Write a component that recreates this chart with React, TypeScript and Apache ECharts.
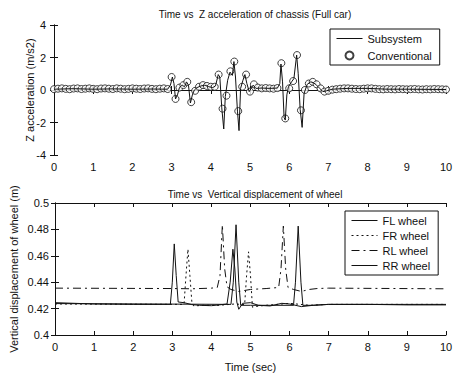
import React, { useEffect, useRef } from "react";
import * as echarts from "echarts";

// Top panel: subsystem line (t, m/s2)
const subsystemLine: [number, number][] = [
  [0, 0.05], [0.5, 0.08], [1, 0.05], [1.5, 0.07], [2, 0.05], [2.5, 0.06], [2.9, 0.05],
  [2.97, 0.3], [3.02, 0.8], [3.06, 0.4], [3.1, -0.55], [3.15, -0.3], [3.2, 0.15], [3.27, 0.3],
  [3.33, 0.2], [3.38, 0.5], [3.43, 0.3], [3.48, -0.8], [3.53, -0.3], [3.58, 0.0], [3.65, 0.15],
  [3.75, 0.25], [3.85, 0.3], [3.95, 0.2], [4.05, 0.15], [4.12, 0.25], [4.19, 0.95], [4.23, 0.8],
  [4.28, -1.1], [4.33, -2.4], [4.37, -0.4], [4.43, 0.6], [4.49, 1.1], [4.55, 0.9], [4.59, 1.75],
  [4.63, 0.8], [4.68, -1.3], [4.72, -2.5], [4.76, 0.1], [4.82, 0.6], [4.87, 0.95], [4.92, 0.4],
  [4.98, -0.1], [5.03, 0.1], [5.08, 0.3], [5.15, 0.1], [5.3, 0.12], [5.5, 0.1], [5.7, 0.12],
  [5.76, 0.4], [5.79, 1.6], [5.83, 0.5], [5.87, -1.7], [5.9, -1.85], [5.94, -0.3], [5.98, 0.2],
  [6.06, 0.5], [6.12, 0.7], [6.19, 2.15], [6.23, 1.0], [6.28, -1.2], [6.33, -2.3], [6.38, -0.2],
  [6.46, 0.35], [6.55, 0.5], [6.62, 0.45], [6.7, 0.3], [6.78, 0.1], [6.86, -0.1], [6.95, -0.05],
  [7.1, 0.05], [7.5, 0.1], [8, 0.1], [8.5, 0.05], [9, 0.05], [9.5, 0.04], [10, 0.03],
];

// Top panel: conventional samples, one every 0.1 s from 0 to 10 s
const conventionalStep = 0.1;
const conventionalValues: number[] = [
  0.05, 0.08, 0.1, 0.07, 0.05, 0.09, 0.1, 0.06, 0.08, 0.1,
  0.07, 0.05, 0.09, 0.1, 0.08, 0.06, 0.1, 0.08, 0.05, 0.07,
  0.1, 0.08, 0.06, 0.09, 0.1, 0.07, 0.05, 0.08, 0.1, 0.06,
  0.8, -0.55, 0.15, 0.3, 0.5, -0.75, -0.05, 0.2, 0.3, 0.25,
  0.2, 0.2, 0.95, -1.15, -0.35, 1.15, 1.75, -1.3, 0.2, 0.95,
  -0.1, 0.35, 0.15, 0.1, 0.12, 0.1, 0.08, 0.12, 1.65, -1.75,
  0.1, 0.55, 2.15, -1.25, 0.0, 0.4, 0.5, 0.35, 0.1, -0.1,
  -0.05, 0.02, 0.05, 0.08, 0.1, 0.1, 0.08, 0.06, 0.05, 0.08,
  0.1, 0.1, 0.07, 0.05, 0.04, 0.06, 0.05, 0.04, 0.06, 0.05,
  0.04, 0.05, 0.06, 0.04, 0.03, 0.05, 0.04, 0.06, 0.05, 0.04, 0.03,
];

// Bottom panel: wheel vertical displacement (t, m)
const flWheel: [number, number][] = [
  [0, 0.4245], [1, 0.4235], [2, 0.4232], [2.95, 0.4232], [3.0, 0.44], [3.05, 0.469], [3.1, 0.445],
  [3.15, 0.425], [3.3, 0.4245], [3.5, 0.423], [3.7, 0.4225], [4.0, 0.4222], [4.2, 0.4228],
  [4.4, 0.4235], [4.48, 0.44], [4.55, 0.465], [4.6, 0.45], [4.65, 0.425], [4.7, 0.4195],
  [4.8, 0.424], [5.0, 0.4245], [5.2, 0.4225], [5.5, 0.422], [5.8, 0.424], [6.0, 0.4235],
  [6.3, 0.4215], [6.6, 0.4225], [7, 0.4232], [8, 0.4232], [9, 0.4228], [10, 0.4228],
];
const frWheel: [number, number][] = [
  [0, 0.4235], [3.3, 0.4232], [3.35, 0.445], [3.4, 0.465], [3.45, 0.445], [3.5, 0.425],
  [3.55, 0.422], [3.8, 0.4225], [4.2, 0.4225], [4.6, 0.4235], [4.85, 0.423], [4.9, 0.445],
  [4.95, 0.463], [5.0, 0.445], [5.05, 0.421], [5.1, 0.4215], [5.4, 0.4225], [6, 0.424],
  [6.5, 0.4225], [7, 0.4232], [10, 0.4232],
];
const rlWheel: [number, number][] = [
  [0, 0.4355], [3.0, 0.4352], [3.5, 0.435], [4.0, 0.4355], [4.15, 0.436], [4.22, 0.445],
  [4.28, 0.4835], [4.34, 0.45], [4.4, 0.4365], [4.5, 0.4345], [4.7, 0.433], [5.0, 0.4345],
  [5.4, 0.4352], [5.72, 0.436], [5.78, 0.45], [5.84, 0.4825], [5.9, 0.45], [5.96, 0.436],
  [6.1, 0.4345], [6.3, 0.433], [6.5, 0.4345], [6.7, 0.4352], [7, 0.4355], [10, 0.435],
];
const rrWheel: [number, number][] = [
  [0, 0.4238], [4.5, 0.4232], [4.56, 0.44], [4.63, 0.4835], [4.7, 0.44], [4.75, 0.4225],
  [5.0, 0.4225], [6.1, 0.4225], [6.15, 0.44], [6.22, 0.4825], [6.29, 0.44], [6.34, 0.4225],
  [6.6, 0.4225], [7, 0.4232], [10, 0.4232],
];

const FONT = "Liberation Sans";
const INK = "#111";

export default function App() {
  const ref = useRef<HTMLDivElement>(null);
  useEffect(() => {
    if (!ref.current) return;
    const chart = echarts.init(ref.current, null, { renderer: "svg" });
    const conv = conventionalValues.map((v, i) => [Number((i * conventionalStep).toFixed(1)), v]);
    const tickStyle = { show: true, inside: true, length: 4, lineStyle: { color: INK } };
    const lineAx = { show: true, lineStyle: { color: INK, width: 1 } };
    const lbl = { color: INK, fontFamily: FONT, fontSize: 11 };
    const hidden = { opacity: 0 };
    const xBase = (gridIndex: number, extra: any = {}) => ({
      type: "value", gridIndex, min: 0, max: 10, interval: 1,
      axisLine: lineAx, axisTick: tickStyle, splitLine: { show: false },
      axisLabel: { ...lbl, margin: 6 }, ...extra,
    });
    chart.setOption({
      animation: false,
      backgroundColor: "#fff",
      title: [
        { text: "Time vs  Z acceleration of chassis (Full car)", left: 250, top: 4, textAlign: "center",
          textStyle: { fontFamily: FONT, fontSize: 10, fontWeight: "normal", color: INK } },
        { text: "Time vs  Vertical displacement of wheel", left: 250, top: 184, textAlign: "center",
          textStyle: { fontFamily: FONT, fontSize: 10, fontWeight: "normal", color: INK } },
      ],
      grid: [
        { left: 54, right: 15, top: 25, height: 130 },
        { left: 54, right: 15, top: 203, height: 132 },
      ],
      xAxis: [
        xBase(0),
        xBase(0, { position: "top", axisLabel: { show: false } }),
        xBase(1, { name: "Time (sec)", nameLocation: "middle", nameGap: 26,
          nameTextStyle: { fontFamily: FONT, fontSize: 11, color: INK } }),
        xBase(1, { position: "top", axisLabel: { show: false } }),
      ],
      yAxis: [
        { type: "value", gridIndex: 0, min: -4, max: 4, interval: 2,
          axisLine: lineAx, axisTick: tickStyle, splitLine: { show: false },
          axisLabel: { ...lbl, margin: 8 },
          name: "Z acceleration (m/s2)", nameLocation: "middle", nameGap: 19, nameMoveOverlap: false,
          nameTextStyle: { fontFamily: FONT, fontSize: 11, color: INK } },
        { type: "value", gridIndex: 0, min: -4, max: 4, interval: 2, position: "right",
          axisLine: lineAx, axisTick: tickStyle, splitLine: { show: false }, axisLabel: { show: false } },
        { type: "value", gridIndex: 1, min: 0.4, max: 0.5, interval: 0.02,
          axisLine: lineAx, axisTick: tickStyle, splitLine: { show: false },
          axisLabel: { ...lbl, margin: 6, formatter: (v: number) => String(Number(v.toFixed(2))) },
          name: "Vertical displacement of wheel (m)", nameLocation: "middle", nameGap: 36, nameMoveOverlap: false,
          nameTextStyle: { fontFamily: FONT, fontSize: 11, color: INK } },
        { type: "value", gridIndex: 1, min: 0.4, max: 0.5, interval: 0.02, position: "right",
          axisLine: lineAx, axisTick: tickStyle, splitLine: { show: false }, axisLabel: { show: false } },
      ],
      legend: [
        { orient: "vertical", left: 330, top: 29, itemWidth: 26, itemHeight: 8, itemGap: 6,
          padding: [4, 8, 4, 6], borderColor: INK, borderWidth: 1, backgroundColor: "#fff",
          lineStyle: { width: 1 },
          textStyle: { fontFamily: FONT, fontSize: 11, color: INK },
          data: [{ name: "Subsystem", itemStyle: hidden }, { name: "Conventional" }] },
        { orient: "vertical", left: 345, top: 211, itemWidth: 26, itemHeight: 8, itemGap: 4,
          padding: [4, 8, 4, 6], borderColor: INK, borderWidth: 1, backgroundColor: "#fff",
          lineStyle: { width: 1 },
          textStyle: { fontFamily: FONT, fontSize: 11, color: INK },
          data: [
            { name: "FL wheel", itemStyle: hidden }, { name: "FR wheel", itemStyle: hidden },
            { name: "RL wheel", itemStyle: hidden }, { name: "RR wheel", itemStyle: hidden },
          ] },
      ],
      series: [
        { name: "Subsystem", type: "line", xAxisIndex: 0, yAxisIndex: 0, data: subsystemLine,
          symbol: "none", lineStyle: { color: INK, width: 1 }, itemStyle: { color: INK } },
        { name: "Conventional", type: "scatter", xAxisIndex: 0, yAxisIndex: 0, data: conv,
          symbol: "circle", symbolSize: 7,
          itemStyle: { color: "#fff", borderColor: INK, borderWidth: 1 } },
        { name: "FL wheel", type: "line", xAxisIndex: 2, yAxisIndex: 2, data: flWheel, symbol: "none",
          lineStyle: { color: INK, width: 1 }, itemStyle: { color: INK } },
        { name: "FR wheel", type: "line", xAxisIndex: 2, yAxisIndex: 2, data: frWheel, symbol: "none",
          lineStyle: { color: INK, width: 1, type: [2, 3] }, itemStyle: { color: INK } },
        { name: "RL wheel", type: "line", xAxisIndex: 2, yAxisIndex: 2, data: rlWheel, symbol: "none",
          lineStyle: { color: INK, width: 1, type: [8, 4, 2, 4] }, itemStyle: { color: INK } },
        { name: "RR wheel", type: "line", xAxisIndex: 2, yAxisIndex: 2, data: rrWheel, symbol: "none",
          lineStyle: { color: INK, width: 1 }, itemStyle: { color: INK } },
      ],
    });
    return () => chart.dispose();
  }, []);
  return <div ref={ref} style={{ position: "fixed", left: 0, top: 0, width: 461, height: 374, background: "#fff" }} />;
}
